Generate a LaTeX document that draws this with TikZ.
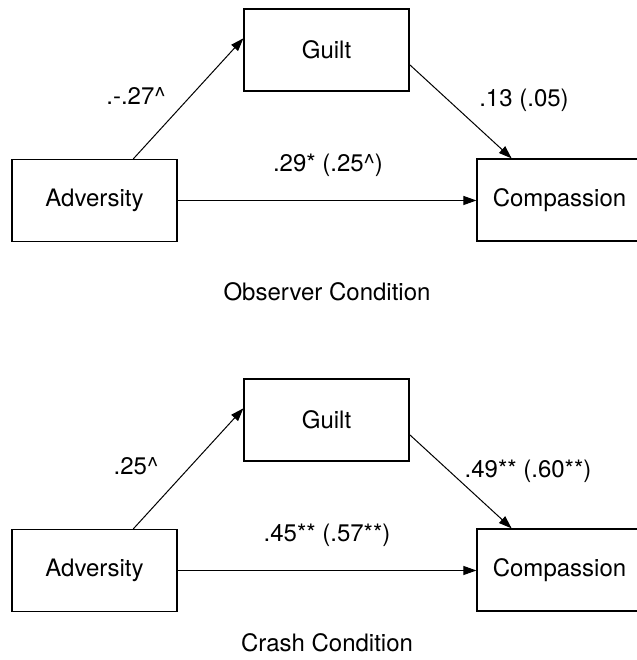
\documentclass[tikz,border=0pt]{standalone}
\usepackage{fontspec}
\setmainfont{TeX Gyre Heros}
\usetikzlibrary{arrows.meta}

\begin{document}
\begin{tikzpicture}[x=1pt,y=1pt,
    var/.style={draw,line width=1.2pt,minimum width=165pt,minimum height=82pt,inner sep=0pt,font=\fontsize{24}{28}\selectfont},
    lab/.style={font=\fontsize{24}{28}\selectfont,inner sep=0pt},
    arr/.style={-{Triangle[length=13pt,width=9pt]},line width=1pt}]
    \useasboundingbox (0,0) rectangle (636,660);
    % observer condition
    \node[var] (G1) at (326.5,610) {Guilt};
    \node[var] (A1) at (94.5,459.5) {Adversity};
    \node[var] (C1) at (559.5,460) {Compassion};
    \draw[arr] (A1.47) -- (G1.172);
    \draw[arr] (G1.-10) -- (C1.139);
    \draw[arr] (A1.east) -- (A1.east -| C1.west);
    \node[lab] (a1) at (136,564) {.-.27\textasciicircum};
    \node[lab] (b1) at (524,560) {.13 (.05)};
    \node[lab] (c1) at (328,495) {.29* (.25\textasciicircum)};
    \node[lab] (t1) at (327,368) {Observer Condition};
    % crash condition
    \node[var] (G2) at (326.5,240) {Guilt};
    \node[var] (A2) at (94.5,89.5) {Adversity};
    \node[var] (C2) at (559.5,90) {Compassion};
    \draw[arr] (A2.47) -- (G2.172);
    \draw[arr] (G2.-10) -- (C2.139);
    \draw[arr] (A2.east) -- (A2.east -| C2.west);
    \node[lab] (a2) at (136,194) {.25\textasciicircum};
    \node[lab] (b2) at (528,189) {.49** (.60**)};
    \node[lab] (c2) at (327,125) {.45** (.57**)};
    \node[lab] (t2) at (327,17) {Crash Condition};
  \end{tikzpicture}
\end{document}
